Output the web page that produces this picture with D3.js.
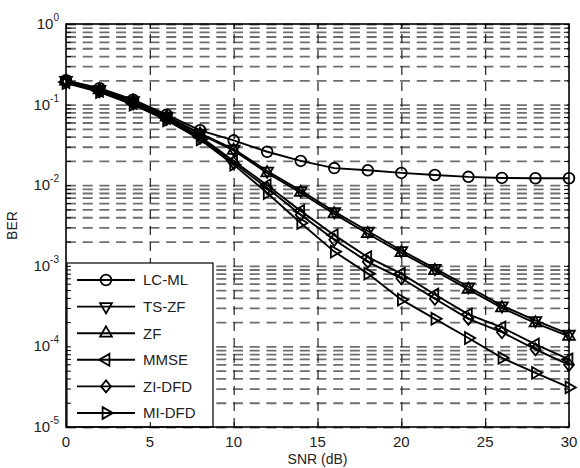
<!DOCTYPE html>
<html>
<head>
<meta charset="utf-8">
<script src="https://cdn.jsdelivr.net/npm/d3@7"></script>
<style>
  body { margin: 0; background: #fff; }
  text { font-family: "Liberation Sans", Arial, Helvetica, sans-serif; }
</style>
</head>
<body>
<svg id="chart"></svg>
<script>
// SNR points (dB)
const snr = [0, 2, 4, 6, 8, 10, 12, 14, 16, 18, 20, 22, 24, 26, 28, 30];

// BER per detector
const lcMl  = [0.20, 0.16, 0.115, 0.075, 0.048, 0.036, 0.026, 0.020, 0.0163, 0.0153, 0.0142, 0.0134, 0.0127, 0.0123, 0.0122, 0.0122];
const tsZf  = [0.20, 0.155, 0.112, 0.072, 0.044, 0.028, 0.0150, 0.0086, 0.0047, 0.0027, 0.00155, 0.00093, 0.00055, 0.00032, 0.00021, 0.000142];
const zf    = [0.195, 0.152, 0.110, 0.070, 0.043, 0.027, 0.0142, 0.0081, 0.0044, 0.0025, 0.00145, 0.00087, 0.00051, 0.00030, 0.000195, 0.000133];
const mmse  = [0.19, 0.148, 0.105, 0.068, 0.040, 0.020, 0.0100, 0.0048, 0.0024, 0.00128, 0.00080, 0.00044, 0.00025, 0.000172, 0.000106, 0.000069];
const ziDfd = [0.188, 0.146, 0.103, 0.066, 0.039, 0.019, 0.0092, 0.0043, 0.0021, 0.00112, 0.00070, 0.00039, 0.00022, 0.000150, 0.000092, 0.000059];
const miDfd = [0.185, 0.143, 0.100, 0.064, 0.037, 0.018, 0.0080, 0.0034, 0.0015, 0.00080, 0.00038, 0.00022, 0.000127, 0.000072, 0.000047, 0.000031];

const seriesNames = ["LC-ML", "TS-ZF", "ZF", "MMSE", "ZI-DFD", "MI-DFD"];
const seriesValues = [lcMl, tsZf, zf, mmse, ziDfd, miDfd];
const markerTypes = ["circle", "triDown", "triUp", "triLeft", "diamond", "triRight"];

const xTicks = [0, 5, 10, 15, 20, 25, 30];
const yExponents = [0, -1, -2, -3, -4, -5];

const width = 580, height = 468;
const margin = { top: 24, right: 11, bottom: 41, left: 66 };
const innerW = width - margin.left - margin.right;
const innerH = height - margin.top - margin.bottom;

const svg = d3.select("#chart")
  .attr("width", width)
  .attr("height", height);

const g = svg.append("g")
  .attr("transform", `translate(${margin.left},${margin.top})`);

// scales
const x = d3.scaleLinear().domain([0, 30]).range([0, innerW]);
const y = d3.scaleLog().domain([1e-5, 1]).range([innerH, 0]);

// all decade + minor values for the log grid
const logGrid = [];
for (let e = -5; e < 0; e++) {
  for (let k = 1; k <= 9; k++) logGrid.push(k * Math.pow(10, e));
}
logGrid.push(1);

// horizontal grid (gray dashes)
g.append("g")
  .attr("class", "grid-y")
  .call(d3.axisLeft(y).tickValues(logGrid).tickSize(-innerW).tickFormat(""))
  .call(s => s.select(".domain").remove())
  .selectAll("line")
  .attr("stroke", "#6e6e6e")
  .attr("stroke-width", 1.8)
  .attr("stroke-dasharray", "10,6.7");

// vertical grid (dark dashes)
g.append("g")
  .attr("class", "grid-x")
  .attr("transform", `translate(0,${innerH})`)
  .call(d3.axisBottom(x).tickValues(xTicks.slice(1, -1)).tickSize(-innerH).tickFormat(""))
  .call(s => s.select(".domain").remove())
  .selectAll("line")
  .attr("stroke", "#222")
  .attr("stroke-width", 1.2)
  .attr("stroke-dasharray", "9,7");

// marker shapes
const markerPath = (type) => {
  const tri = d3.symbol().type(d3.symbolTriangle).size(60)();
  switch (type) {
    case "circle": return { d: d3.symbol().type(d3.symbolCircle).size(90)(), rot: 0 };
    case "triUp": return { d: tri, rot: 0 };
    case "triDown": return { d: tri, rot: 180 };
    case "triLeft": return { d: tri, rot: -90 };
    case "triRight": return { d: tri, rot: 90 };
    case "diamond": return { d: "M0,-6L5,0L0,6L-5,0Z", rot: 0 };
  }
};

const line = d3.line()
  .x((d, i) => x(snr[i]))
  .y(d => y(d));

// curves
seriesValues.forEach((vals, si) => {
  const sg = g.append("g").attr("class", "series");
  sg.append("path")
    .datum(vals)
    .attr("d", line)
    .attr("fill", "none")
    .attr("stroke", "#000")
    .attr("stroke-width", 1.9);
  const m = markerPath(markerTypes[si]);
  sg.selectAll("path.marker")
    .data(vals)
    .enter()
    .append("path")
    .attr("class", "marker")
    .attr("d", m.d)
    .attr("transform", (d, i) => `translate(${x(snr[i])},${y(d)}) rotate(${m.rot})`)
    .attr("fill", "none")
    .attr("stroke", "#000")
    .attr("stroke-width", 1.8);
});

// legend
const legend = g.append("g")
  .attr("transform", `translate(1,${innerH - 164})`);
legend.append("rect")
  .attr("width", 146)
  .attr("height", 164)
  .attr("fill", "#fff")
  .attr("stroke", "#000")
  .attr("stroke-width", 1.2);

seriesNames.forEach((name, i) => {
  const ly = 17 + i * 26.6;
  const row = legend.append("g").attr("transform", `translate(0,${ly})`);
  row.append("line")
    .attr("x1", 10).attr("x2", 68)
    .attr("stroke", "#000").attr("stroke-width", 1.9);
  const m = markerPath(markerTypes[i]);
  row.append("path")
    .attr("d", m.d)
    .attr("transform", `translate(39,0) rotate(${m.rot})`)
    .attr("fill", "none")
    .attr("stroke", "#000")
    .attr("stroke-width", 1.8);
  row.append("text")
    .attr("x", 76)
    .attr("dy", "0.36em")
    .attr("font-size", 15)
    .attr("fill", "#222")
    .text(name);
});

// axes ticks (inward) on all four sides
const tickStyle = s => s.select(".domain").remove();
g.append("g")
  .call(d3.axisLeft(y).tickValues(logGrid).tickSize(-5).tickFormat(""))
  .call(tickStyle)
  .selectAll("line").attr("stroke", "#000");
g.append("g")
  .attr("transform", `translate(${innerW},0)`)
  .call(d3.axisRight(y).tickValues(logGrid).tickSize(-5).tickFormat(""))
  .call(tickStyle)
  .selectAll("line").attr("stroke", "#000");
g.append("g")
  .attr("transform", `translate(0,${innerH})`)
  .call(d3.axisBottom(x).tickValues(xTicks).tickSize(-5).tickFormat(""))
  .call(tickStyle)
  .selectAll("line").attr("stroke", "#000");
g.append("g")
  .call(d3.axisTop(x).tickValues(xTicks).tickSize(-5).tickFormat(""))
  .call(tickStyle)
  .selectAll("line").attr("stroke", "#000");

// frame
g.append("rect")
  .attr("width", innerW)
  .attr("height", innerH)
  .attr("fill", "none")
  .attr("stroke", "#000")
  .attr("stroke-width", 1.6);

// x tick labels
g.selectAll(".xlab")
  .data(xTicks)
  .enter()
  .append("text")
  .attr("class", "xlab")
  .attr("x", d => x(d))
  .attr("y", innerH + 20)
  .attr("text-anchor", "middle")
  .attr("font-size", 15)
  .attr("fill", "#222")
  .text(d => d);

// y tick labels 10^n
yExponents.forEach(e => {
  const t = g.append("text")
    .attr("x", -7)
    .attr("y", y(Math.pow(10, e)) + 5)
    .attr("text-anchor", "end")
    .attr("font-size", 15)
    .attr("fill", "#222");
  t.append("tspan").text("10");
  t.append("tspan")
    .attr("font-size", 10)
    .attr("dy", -8)
    .text(e === 0 ? "0" : "-" + Math.abs(e));
});

// axis titles
g.append("text")
  .attr("x", innerW / 2)
  .attr("y", innerH + 37)
  .attr("text-anchor", "middle")
  .attr("font-size", 14)
  .attr("fill", "#222")
  .text("SNR (dB)");

g.append("text")
  .attr("transform", `translate(${17 - margin.left},${innerH / 2}) rotate(-90)`)
  .attr("text-anchor", "middle")
  .attr("font-size", 14)
  .attr("fill", "#222")
  .text("BER");
</script>
</body>
</html>
